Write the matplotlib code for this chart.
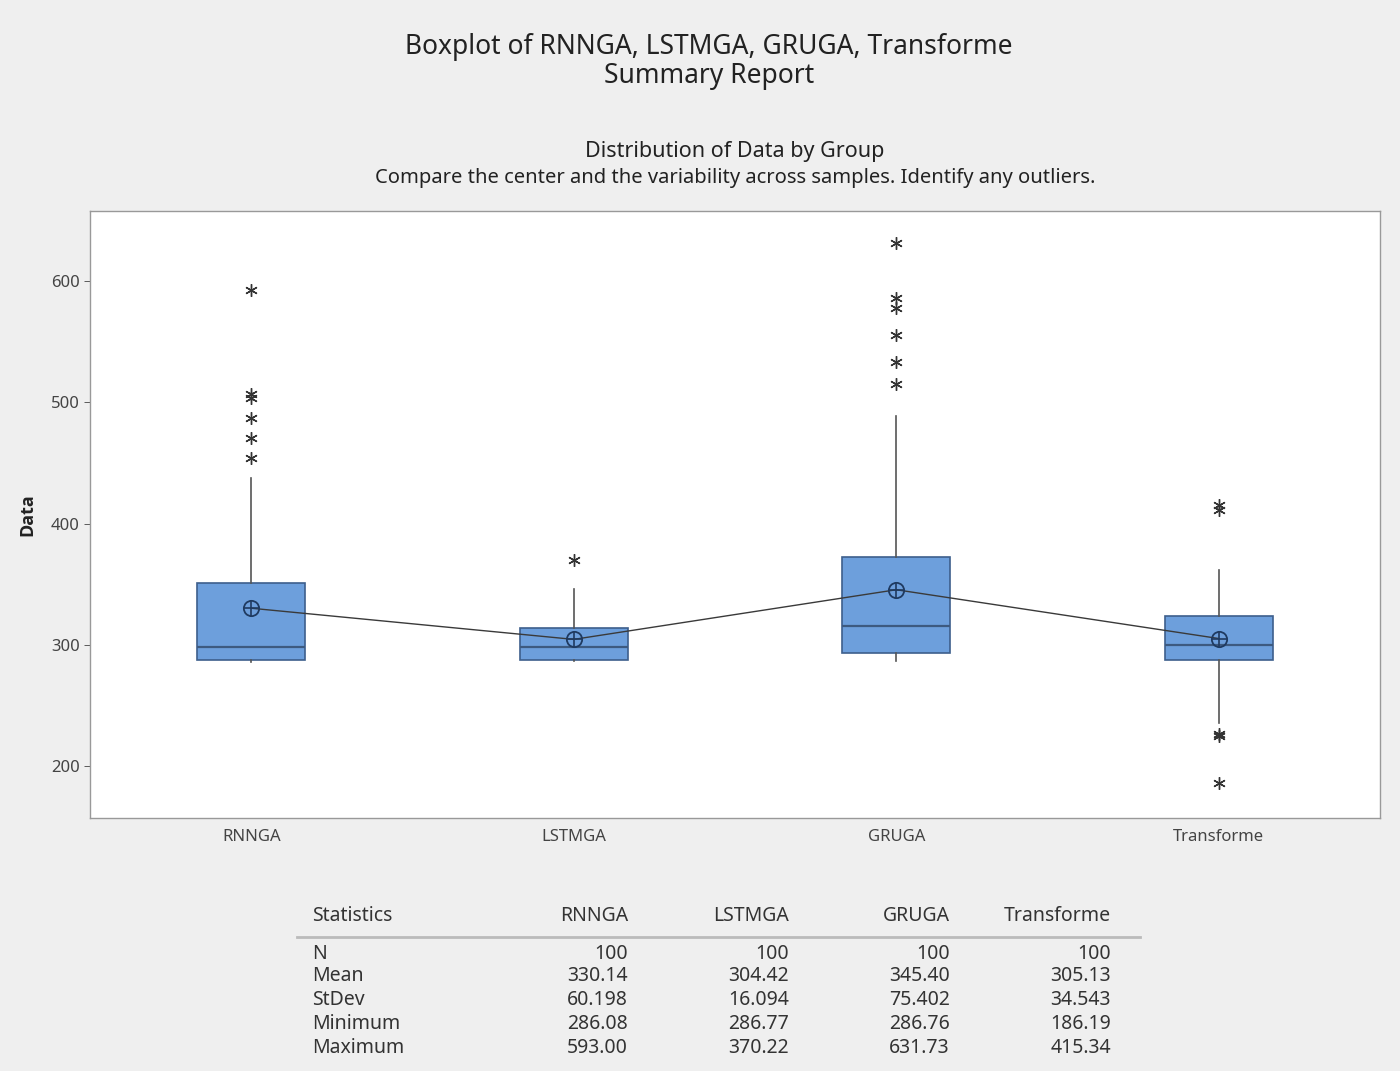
import matplotlib
matplotlib.use("Agg")
import matplotlib.pyplot as plt
from matplotlib.lines import Line2D

plt.rcParams['font.family'] = ['Noto Sans', 'DejaVu Sans']

groups = ["RNNGA", "LSTMGA", "GRUGA", "Transforme"]
means = [330.14, 304.42, 345.40, 305.13]
q1 = [287.6, 287.6, 293.4, 287.6]
medians = [298.4, 298.3, 315.7, 299.4]
q3 = [351.0, 314.0, 372.6, 324.0]
whisk_lo = [286.08, 286.77, 286.76, 235.6]
whisk_hi = [438.0, 346.0, 489.0, 362.0]
outliers = [
    [593.0, 507.0, 504.0, 487.0, 471.0, 454.0],
    [370.22],
    [631.73, 586.0, 578.0, 556.0, 533.5, 515.0],
    [415.34, 411.0, 226.5, 224.5, 186.19],
]

stat_names = ["N", "Mean", "StDev", "Minimum", "Maximum"]
stat_values = [
    ["100", "100", "100", "100"],
    ["330.14", "304.42", "345.40", "305.13"],
    ["60.198", "16.094", "75.402", "34.543"],
    ["286.08", "286.77", "286.76", "186.19"],
    ["593.00", "370.22", "631.73", "415.34"],
]

W, H = 1400, 1071
fig = plt.figure(figsize=(W / 100, H / 100), dpi=100)
fig.patch.set_facecolor("#efefef")

def fx(px):
    return px / W

def fy(py):
    return 1 - py / H

ax = fig.add_axes([fx(90), fy(818), fx(1380) - fx(90), fy(211) - fy(818)])
ax.set_facecolor("white")

stats = []
for i, g in enumerate(groups):
    stats.append(dict(label=g, mean=means[i], med=medians[i], q1=q1[i], q3=q3[i],
                      whislo=whisk_lo[i], whishi=whisk_hi[i], fliers=outliers[i]))

pos = list(range(1, len(groups) + 1))
ax.bxp(stats, positions=pos, widths=0.335, patch_artist=True, showcaps=False,
       showmeans=False,
       boxprops=dict(facecolor="#6d9fdc", edgecolor="#3d5f8c", linewidth=1.2),
       medianprops=dict(color="#3d5a80", linewidth=1.6),
       whiskerprops=dict(color="#555555", linewidth=1.2),
       flierprops=dict(marker=(6, 2, 0), markersize=9, markeredgecolor="#333333",
                       markerfacecolor="none", markeredgewidth=1.0, linestyle="none"))

ax.plot(pos, means, color="#3a3a3a", linewidth=1.0, zorder=4)
ax.plot(pos, means, linestyle="none", marker="o", markersize=11,
        markerfacecolor="none", markeredgecolor="#1f3a60", markeredgewidth=1.3, zorder=5)
ax.plot(pos, means, linestyle="none", marker="+", markersize=11,
        markeredgecolor="#1f3a60", markeredgewidth=1.2, zorder=5)

ax.set_xlim(0.5, 4.5)
ax.set_ylim(157, 658)
ax.set_yticks([200, 300, 400, 500, 600])
ax.set_xticks(pos)
ax.set_xticklabels(groups)
ax.tick_params(axis="both", labelsize=12, colors="#444444", length=4, width=0.6)
ax.tick_params(axis="x", length=0, pad=8)
for s in ax.spines.values():
    s.set_color("#999999")
    s.set_linewidth(1.0)
ax.set_ylabel("Data", fontsize=13, fontweight="bold", color="#222222", labelpad=10,
              family=["Open Sans", "DejaVu Sans"])

fig.text(fx(709), fy(47), "Boxplot of RNNGA, LSTMGA, GRUGA, Transforme", ha="center", va="center",
         fontsize=19, color="#222222")
fig.text(fx(709), fy(76), "Summary Report", ha="center", va="center", fontsize=19, color="#222222")
fig.text(fx(735), fy(152), "Distribution of Data by Group", ha="center", va="center",
         fontsize=15.5, color="#222222")
fig.text(fx(735), fy(178), "Compare the center and the variability across samples. Identify any outliers.",
         ha="center", va="center", fontsize=14.5, color="#222222")

# statistics table
col_x = [628, 789, 950, 1111]
fs = 14
fig.text(fx(312), fy(916), "Statistics", ha="left", va="center", fontsize=fs, color="#333333")
for j, g in enumerate(groups):
    fig.text(fx(col_x[j]), fy(916), g, ha="right", va="center", fontsize=fs, color="#333333")
fig.add_artist(Line2D([fx(297), fx(1140)], [fy(937), fy(937)], color="#bbbbbb", linewidth=2))
row_y = [954, 976, 1000, 1024, 1048]
for r, name in enumerate(stat_names):
    fig.text(fx(312), fy(row_y[r]), name, ha="left", va="center", fontsize=fs, color="#333333")
    for j in range(len(groups)):
        fig.text(fx(col_x[j]), fy(row_y[r]), stat_values[r][j], ha="right", va="center",
                 fontsize=fs, color="#333333")

fig.savefig("out.png", dpi=100, facecolor=fig.get_facecolor())
